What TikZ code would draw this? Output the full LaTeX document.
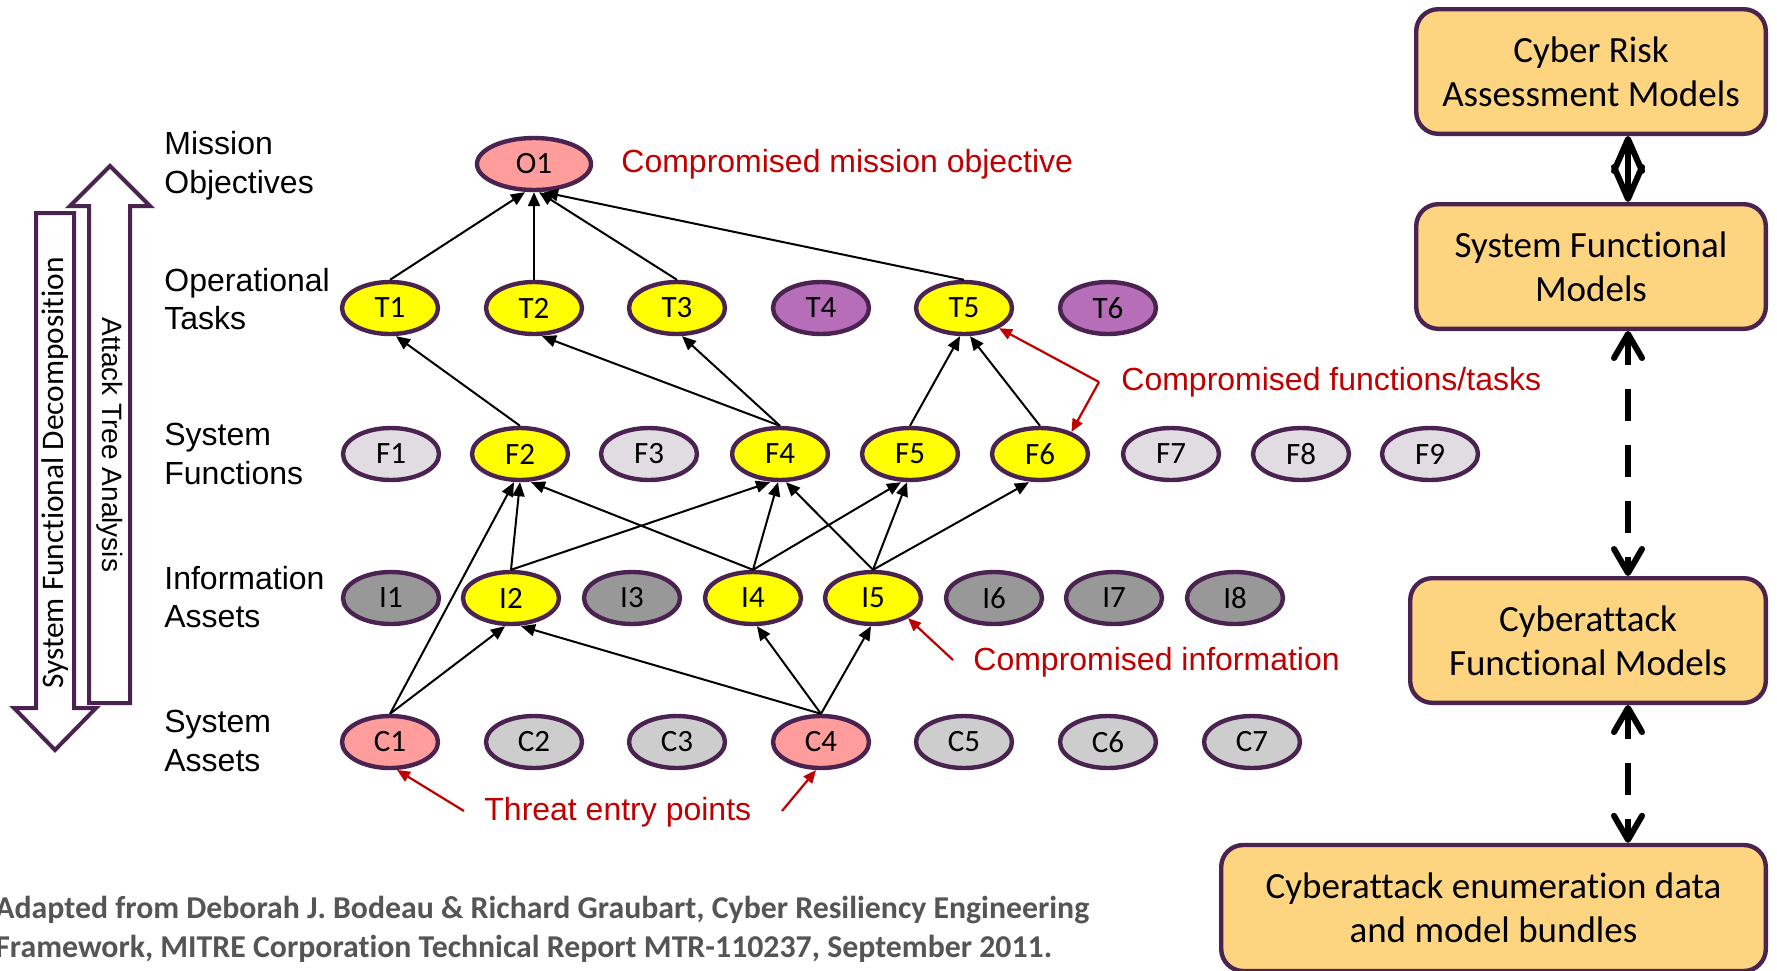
\documentclass[tikz,border=0pt]{standalone}
\usepackage{fontspec}
\setmainfont{Liberation Sans}
\newfontfamily\calib[Ligatures=NoCommon]{Carlito}
\usetikzlibrary{arrows.meta,shapes.geometric,calc}

\definecolor{rim}{HTML}{4A2351}
\definecolor{pinkfill}{HTML}{FF9D9D}
\definecolor{yellowfill}{HTML}{FFFF00}
\definecolor{purplefill}{HTML}{B76EB8}
\definecolor{lilacfill}{HTML}{E1DCE2}
\definecolor{darkgrayfill}{HTML}{989898}
\definecolor{lightgrayfill}{HTML}{CDCDCD}
\definecolor{boxfill}{HTML}{FDD581}
\definecolor{alert}{HTML}{C00000}
\definecolor{citegray}{HTML}{555555}

\tikzset{
  oval/.style={ellipse, draw=rim, line width=2.2pt, minimum width=48pt,
    minimum height=26pt, inner sep=0pt, font=\calib\fontsize{15.5}{18}\selectfont},
  hit/.style={oval, fill=yellowfill},
  entry/.style={oval, fill=pinkfill},
  idle/.style={oval, fill=purplefill},
  fun/.style={oval, fill=lilacfill},
  info/.style={oval, fill=darkgrayfill},
  asset/.style={oval, fill=lightgrayfill},
  edge/.style={-{Triangle[length=7pt,width=6pt]}, line width=1pt, black},
  redarrow/.style={-{Triangle[length=6.5pt,width=5.5pt]}, line width=1.1pt, alert},
  rowlabel/.style={anchor=west, align=left, inner sep=0pt,
    font=\fontsize{16}{19.3}\selectfont},
  note/.style={anchor=west, inner sep=0pt, text=alert,
    font=\fontsize{16}{19}\selectfont},
  modelbox/.style={draw=rim, fill=boxfill, line width=2.2pt, rounded corners=11pt,
    align=center, inner sep=0pt, font=\calib\fontsize{18.5}{22}\selectfont},
  bigarrow/.style={draw=rim, fill=white, line width=2pt, line join=miter},
  barb/.style={line width=3pt, black,
    {Straight Barb[length=#1,width=14pt,round]}-{Straight Barb[length=#1,width=14pt,round]}},
  closelink/.style={barb=16pt},
  dashedlink/.style={barb=12pt, dash pattern=on 16pt off 12pt, dash phase=2pt},
}

\begin{document}
\begin{tikzpicture}[x=0.5pt, y=-0.5pt]
\useasboundingbox (0,0) rectangle (1777,970);
\clip (0,0) rectangle (1777,970);

% direction arrows on the left
\draw[bigarrow] (89,703) -- (89,206) -- (70,206) -- (110,166) -- (150,206)
  -- (130,206) -- (130,703) -- cycle;
\draw[bigarrow] (36,213) -- (74,213) -- (74,708) -- (96,708) -- (55,750)
  -- (14,708) -- (36,708) -- cycle;
\node[rotate=90, inner sep=0pt, font=\calib\fontsize{15.7}{18}\selectfont]
  (decomp) at (55,473) {System Functional Decomposition};
\node[rotate=-90, inner sep=0pt, font=\fontsize{14}{17}\selectfont]
  (attack) at (110,445) {Attack Tree Analysis};

% level labels
\node[rowlabel] (lblO) at (164,166) {Mission\\Objectives};
\node[rowlabel] (lblT) at (164,299) {Operational\\Tasks};
\node[rowlabel] (lblF) at (164,454) {System\\Functions};
\node[rowlabel] (lblI) at (164,597) {Information\\Assets};
\node[rowlabel] (lblC) at (164,741) {System\\Assets};

% mission objective
\node[entry, minimum width=57pt] (O1) at (534,164) {O1};

% operational tasks
\node[hit]  (T1) at (390,308) {T1};
\node[hit]  (T2) at (534,308) {T2};
\node[hit]  (T3) at (677,308) {T3};
\node[idle] (T4) at (821,308) {T4};
\node[hit]  (T5) at (964,308) {T5};
\node[idle] (T6) at (1108,308) {T6};

% system functions
\node[fun] (F1) at (391,454) {F1};
\node[hit] (F2) at (520,454) {F2};
\node[fun] (F3) at (649,454) {F3};
\node[hit] (F4) at (780,454) {F4};
\node[hit] (F5) at (910,454) {F5};
\node[hit] (F6) at (1040,454) {F6};
\node[fun] (F7) at (1171,454) {F7};
\node[fun] (F8) at (1301,454) {F8};
\node[fun] (F9) at (1430,454) {F9};

% information assets
\node[info] (I1) at (391,598) {I1};
\node[hit]  (I2) at (511,598) {I2};
\node[info] (I3) at (632,598) {I3};
\node[hit]  (I4) at (753,598) {I4};
\node[hit]  (I5) at (873,598) {I5};
\node[info] (I6) at (994,598) {I6};
\node[info] (I7) at (1114,598) {I7};
\node[info] (I8) at (1235,598) {I8};

% system assets
\node[entry] (C1) at (390,742) {C1};
\node[asset] (C2) at (534,742) {C2};
\node[asset] (C3) at (677,742) {C3};
\node[entry] (C4) at (821,742) {C4};
\node[asset] (C5) at (964,742) {C5};
\node[asset] (C6) at (1108,742) {C6};
\node[asset] (C7) at (1252,742) {C7};

% attack tree edges
\draw[edge] (T1.north) -- ([xshift=-4.5pt]O1.south);
\draw[edge] (T2.north) -- (O1.south);
\draw[edge] (T3.north) -- ([xshift=2.5pt]O1.south);
\draw[edge] (T5.north) -- ([xshift=5pt]O1.south);

\draw[edge] (F2.north) -- ([xshift=3pt]T1.south);
\draw[edge] (F4.north) -- ([xshift=4pt]T2.south);
\draw[edge] (F4.north) -- ([xshift=2.5pt]T3.south);
\draw[edge] (F5.north) -- ([xshift=-2pt]T5.south);
\draw[edge] (F6.north) -- ([xshift=3pt]T5.south);

\draw[edge] (C1.north) -- ([xshift=-3pt]F2.south);
\draw[edge] (I2.north) -- (F2.south);
\draw[edge] (I4.north) -- ([xshift=5.5pt]F2.south);
\draw[edge] (I2.north) -- ([xshift=-5pt]F4.south);
\draw[edge] (I4.north) -- ([xshift=-1pt]F4.south);
\draw[edge] (I5.north) -- ([xshift=3pt]F4.south);
\draw[edge] (I4.north) -- ([xshift=-4.5pt]F5.south);
\draw[edge] (I5.north) -- ([xshift=-1.5pt]F5.south);
\draw[edge] (I5.north) -- ([xshift=-5.5pt]F6.south);

\draw[edge] (C1.north) -- ([xshift=-3pt]I2.south);
\draw[edge] (C4.north) -- ([xshift=5pt]I2.south);
\draw[edge] (C4.north) -- ([xshift=2pt]I4.south);
\draw[edge] (C4.north) -- ([xshift=-1pt]I5.south);

% annotations
\node[note] (noteO) at (621,164) {Compromised mission objective};
\node[note] (noteF) at (1121,382) {Compromised functions/tasks};
\node[note] (noteI) at (973,662) {Compromised information};
\node[note] (noteC) at (484,812) {Threat entry points};

\coordinate (forkF) at (1099,382);
\draw[redarrow] (forkF) -- (T5.-30);
\draw[redarrow] (forkF) -- (F6.35);
\coordinate (tailI) at (953,660);
\draw[redarrow] (tailI) -- (I5.-30);
\coordinate (tailCL) at (464,811);
\coordinate (tailCR) at (782,811);
\draw[redarrow] (tailCL) -- (C1.-76);
\draw[redarrow] (tailCR) -- (C4.-100);

% model stack on the right
\node[modelbox, minimum width=174.8pt, minimum height=62.3pt] (risk) at (1591,71.5)
  {Cyber Risk\\Assessment Models};
\node[modelbox, minimum width=174.8pt, minimum height=62.3pt] (sysfun) at (1591,266.5)
  {System Functional\\Models};
\node[modelbox, minimum width=177.8pt, minimum height=62.3pt] (atkfun) at (1588,640.5)
  {Cyberattack\\Functional Models};
\node[modelbox, minimum width=272.3pt, minimum height=63pt] (bundles) at (1493.5,908)
  {Cyberattack enumeration data\\and model bundles};

\coordinate (spine) at (1628,0);
\draw[closelink] (risk.south -| spine) -- (sysfun.north -| spine);
\draw[line width=3pt] ($(risk.south -| spine)+(0,14)$) -- ($(risk.south -| spine)+(0,36)$);
\draw[dashedlink] (sysfun.south -| spine) -- (atkfun.north -| spine);
\draw[dashedlink] (atkfun.south -| spine) -- (bundles.north -| spine);

% source line
\node[anchor=west, align=left, inner sep=0pt, text=citegray,
  font=\calib\bfseries\fontsize{15.9}{19.3}\selectfont] (cite) at (-5,929.5)
  {Adapted from Deborah J. Bodeau \& Richard Graubart, Cyber Resiliency Engineering\\
   Framework, MITRE Corporation Technical Report MTR-110237, September 2011.};
\end{tikzpicture}
\end{document}
